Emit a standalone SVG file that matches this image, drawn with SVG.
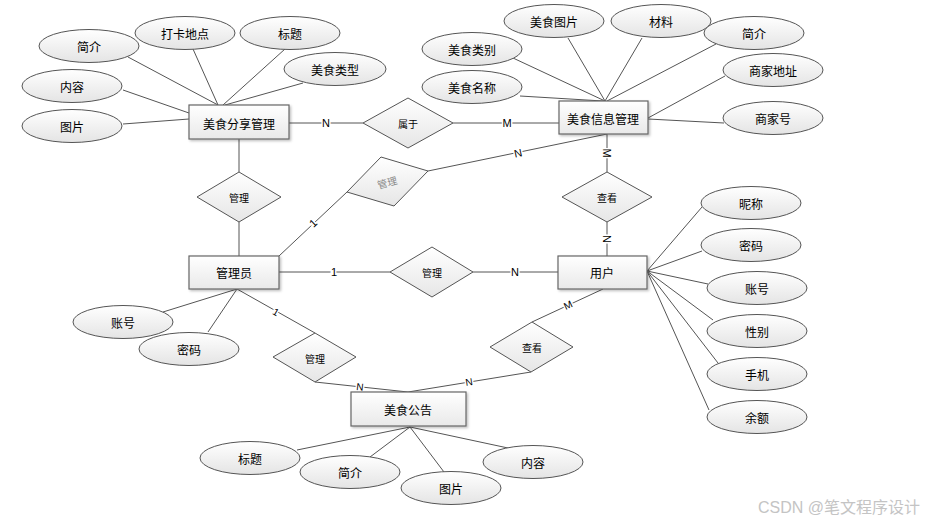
<svg xmlns="http://www.w3.org/2000/svg" width="925" height="522" viewBox="0 0 925 522">
<defs>
<linearGradient id="gEnt" x1="0" y1="0" x2="0" y2="1"><stop offset="0" stop-color="#ffffff"/><stop offset="1" stop-color="#e9e9e9"/></linearGradient>
<linearGradient id="gEll" x1="0" y1="0" x2="0" y2="1"><stop offset="0" stop-color="#ffffff"/><stop offset="1" stop-color="#e4e4e4"/></linearGradient>
<linearGradient id="gDia" x1="0" y1="0" x2="0" y2="1"><stop offset="0" stop-color="#ffffff"/><stop offset="1" stop-color="#e6e6e6"/></linearGradient>
<filter id="sh" x="-10%" y="-10%" width="130%" height="140%"><feDropShadow dx="1.5" dy="1.5" stdDeviation="1" flood-color="#000" flood-opacity="0.25"/></filter>
</defs>
<style>
.ent{fill:url(#gEnt);stroke:#666;stroke-width:1.2;filter:url(#sh)}
.ell{fill:url(#gEll);stroke:#555;stroke-width:1}
.dia{fill:url(#gDia);stroke:#555;stroke-width:1}
.t{font-family:"Noto Sans CJK SC","Liberation Sans",sans-serif;font-size:12px;fill:#000;text-anchor:middle;dominant-baseline:central}
.ts{font-family:"Noto Sans CJK SC","Liberation Sans",sans-serif;font-size:10px;fill:#000;text-anchor:middle;dominant-baseline:central}
.lbl{font-family:"Liberation Sans",sans-serif;font-size:11px;fill:#000;text-anchor:middle;dominant-baseline:central;stroke:#fff;stroke-width:3;paint-order:stroke}
.ln{stroke:#555;stroke-width:1;fill:none}
</style>
<rect width="925" height="522" fill="#fff"/>
<g id="connectors" class="ln">
<line x1="128" y1="57" x2="218" y2="105"/>
<line x1="193" y1="49" x2="218" y2="105"/>
<line x1="285" y1="49" x2="223" y2="105"/>
<line x1="303" y1="83" x2="225" y2="105"/>
<line x1="123" y1="90" x2="189" y2="113"/>
<line x1="123" y1="124" x2="189" y2="119"/>
<line x1="513" y1="58" x2="605" y2="101"/>
<line x1="568" y1="38" x2="605" y2="101"/>
<line x1="642" y1="38" x2="605" y2="101"/>
<line x1="716" y1="44" x2="607" y2="101"/>
<line x1="520" y1="96" x2="603" y2="101"/>
<line x1="725" y1="76" x2="648" y2="118"/>
<line x1="648" y1="119" x2="724" y2="123"/>
<line x1="289" y1="123" x2="363" y2="123"/>
<line x1="453" y1="123" x2="559" y2="123"/>
<line x1="239" y1="139" x2="239" y2="172"/>
<line x1="239" y1="222" x2="239" y2="256"/>
<line x1="607" y1="134" x2="607" y2="172"/>
<line x1="607" y1="222" x2="607" y2="256"/>
<line x1="607" y1="134" x2="428" y2="171"/>
<line x1="347" y1="192" x2="279" y2="256"/>
<line x1="279" y1="272" x2="390" y2="272"/>
<line x1="473" y1="272" x2="558" y2="272"/>
<line x1="647" y1="271" x2="702" y2="207"/>
<line x1="647" y1="271" x2="702" y2="251"/>
<line x1="647" y1="271" x2="708" y2="284"/>
<line x1="647" y1="271" x2="713" y2="320"/>
<line x1="647" y1="271" x2="718" y2="363"/>
<line x1="647" y1="271" x2="709" y2="410"/>
<line x1="237" y1="289" x2="163" y2="312"/>
<line x1="237" y1="289" x2="208" y2="332"/>
<line x1="237" y1="289" x2="315" y2="333"/>
<line x1="315" y1="382" x2="408" y2="392"/>
<line x1="603" y1="289" x2="532" y2="322"/>
<line x1="531" y1="372" x2="408" y2="392"/>
<line x1="410" y1="427" x2="297" y2="450"/>
<line x1="410" y1="427" x2="370" y2="457"/>
<line x1="410" y1="427" x2="444" y2="472"/>
<line x1="410" y1="427" x2="508" y2="448"/>
</g>
<g id="labels">
<text class="lbl" x="326" y="123">N</text>
<text class="lbl" x="507" y="123">M</text>
<text class="lbl" x="607" y="153" transform="rotate(90 607 153)">M</text>
<text class="lbl" x="607" y="239" transform="rotate(90 607 239)">N</text>
<text class="lbl" x="518" y="153" transform="rotate(-12 518 153)">N</text>
<text class="lbl" x="313" y="223" transform="rotate(-43 313 223)">1</text>
<text class="lbl" x="334" y="272">1</text>
<text class="lbl" x="515" y="272">N</text>
<text class="lbl" x="276" y="312" transform="rotate(29 276 312)" style="font-size:10px">1</text>
<text class="lbl" x="360" y="387" transform="rotate(6 360 387)" style="font-size:10px">N</text>
<text class="lbl" x="568" y="305" transform="rotate(-25 568 305)" style="font-size:10px">M</text>
<text class="lbl" x="469" y="382" transform="rotate(-9 469 382)" style="font-size:10px">N</text>
</g>
<g id="e-share"><rect class="ent" x="189" y="105" width="100" height="34"/><text class="t" x="239" y="123">美食分享管理</text></g>
<g id="e-info"><rect class="ent" x="559" y="101" width="89" height="33"/><text class="t" x="603" y="118">美食信息管理</text></g>
<g id="e-admin"><rect class="ent" x="189" y="256" width="90" height="33"/><text class="t" x="234" y="272">管理员</text></g>
<g id="e-user"><rect class="ent" x="558" y="256" width="89" height="33"/><text class="t" x="602" y="272">用户</text></g>
<g id="e-notice"><rect class="ent" x="351" y="392" width="115" height="34"/><text class="t" x="408" y="409">美食公告</text></g>
<g id="r-belong"><polygon class="dia" points="408,98 453,123 408,148 363,123"/><text class="ts" x="408" y="123">属于</text></g>
<g id="r-manage1"><polygon class="dia" points="239,172 281,197 239,222 197,197"/><text class="ts" x="239" y="197">管理</text></g>
<g id="r-manage2"><polygon class="dia" points="381,157 428,171 394,206 347,192"/><text class="ts" x="387" y="182" transform="rotate(-15 387 182)" style="fill:#888">管理</text></g>
<g id="r-view1"><polygon class="dia" points="607,172 652,197 607,222 562,197"/><text class="ts" x="607" y="197">查看</text></g>
<g id="r-manage3"><polygon class="dia" points="432,247 473,272 432,297 390,272"/><text class="ts" x="432" y="272">管理</text></g>
<g id="r-manage4"><polygon class="dia" points="315,333 356,357 315,382 273,357"/><text class="ts" x="315" y="358">管理</text></g>
<g id="r-view2"><polygon class="dia" points="532,322 573,347 531,372 490,347"/><text class="ts" x="532" y="347">查看</text></g>
<g id="a-share-intro"><ellipse class="ell" cx="89" cy="46" rx="50" ry="16.5"/><text class="t" x="89" y="46">简介</text></g>
<g id="a-share-loc"><ellipse class="ell" cx="185" cy="33" rx="50" ry="16.5"/><text class="t" x="185" y="33">打卡地点</text></g>
<g id="a-share-title"><ellipse class="ell" cx="290" cy="33" rx="50" ry="16.5"/><text class="t" x="290" y="33">标题</text></g>
<g id="a-share-type"><ellipse class="ell" cx="335" cy="69" rx="51" ry="16.5"/><text class="t" x="335" y="69">美食类型</text></g>
<g id="a-share-content"><ellipse class="ell" cx="72" cy="86" rx="50" ry="16.5"/><text class="t" x="72" y="86">内容</text></g>
<g id="a-share-pic"><ellipse class="ell" cx="72" cy="126" rx="50" ry="16.5"/><text class="t" x="72" y="126">图片</text></g>
<g id="a-info-pic"><ellipse class="ell" cx="554" cy="21" rx="50" ry="16.5"/><text class="t" x="554" y="21">美食图片</text></g>
<g id="a-info-mat"><ellipse class="ell" cx="661" cy="21" rx="50" ry="16.5"/><text class="t" x="661" y="21">材料</text></g>
<g id="a-info-intro"><ellipse class="ell" cx="754" cy="33" rx="50" ry="16.5"/><text class="t" x="754" y="33">简介</text></g>
<g id="a-info-cat"><ellipse class="ell" cx="472" cy="49" rx="50" ry="16.5"/><text class="t" x="472" y="49">美食类别</text></g>
<g id="a-info-addr"><ellipse class="ell" cx="773" cy="70" rx="50" ry="16.5"/><text class="t" x="773" y="70">商家地址</text></g>
<g id="a-info-name"><ellipse class="ell" cx="472" cy="87" rx="50" ry="16.5"/><text class="t" x="472" y="87">美食名称</text></g>
<g id="a-info-shop"><ellipse class="ell" cx="773" cy="118" rx="50" ry="16.5"/><text class="t" x="773" y="118">商家号</text></g>
<g id="a-user-nick"><ellipse class="ell" cx="751" cy="203" rx="50" ry="16.5"/><text class="t" x="751" y="203">昵称</text></g>
<g id="a-user-pwd"><ellipse class="ell" cx="751" cy="245" rx="50" ry="16.5"/><text class="t" x="751" y="245">密码</text></g>
<g id="a-user-acc"><ellipse class="ell" cx="757" cy="288" rx="50" ry="16.5"/><text class="t" x="757" y="288">账号</text></g>
<g id="a-user-sex"><ellipse class="ell" cx="757" cy="331" rx="50" ry="16.5"/><text class="t" x="757" y="331">性别</text></g>
<g id="a-user-phone"><ellipse class="ell" cx="757" cy="374" rx="50" ry="16.5"/><text class="t" x="757" y="374">手机</text></g>
<g id="a-user-bal"><ellipse class="ell" cx="757" cy="417" rx="50" ry="16.5"/><text class="t" x="757" y="417">余额</text></g>
<g id="a-admin-acc"><ellipse class="ell" cx="123" cy="322" rx="50" ry="16.5"/><text class="t" x="123" y="322">账号</text></g>
<g id="a-admin-pwd"><ellipse class="ell" cx="189" cy="349" rx="50" ry="16.5"/><text class="t" x="189" y="349">密码</text></g>
<g id="a-notice-title"><ellipse class="ell" cx="250" cy="458" rx="50" ry="16.5"/><text class="t" x="250" y="458">标题</text></g>
<g id="a-notice-intro"><ellipse class="ell" cx="350" cy="472" rx="50" ry="16.5"/><text class="t" x="350" y="472">简介</text></g>
<g id="a-notice-pic"><ellipse class="ell" cx="451" cy="488" rx="50" ry="16.5"/><text class="t" x="451" y="488">图片</text></g>
<g id="a-notice-content"><ellipse class="ell" cx="533" cy="462" rx="50" ry="16.5"/><text class="t" x="533" y="462">内容</text></g>
<text x="920" y="513" style="font-family:'Liberation Sans','Noto Sans CJK SC',sans-serif;font-size:16px;fill:#c4c4c4;text-anchor:end">CSDN @笔文程序设计</text>
</svg>
